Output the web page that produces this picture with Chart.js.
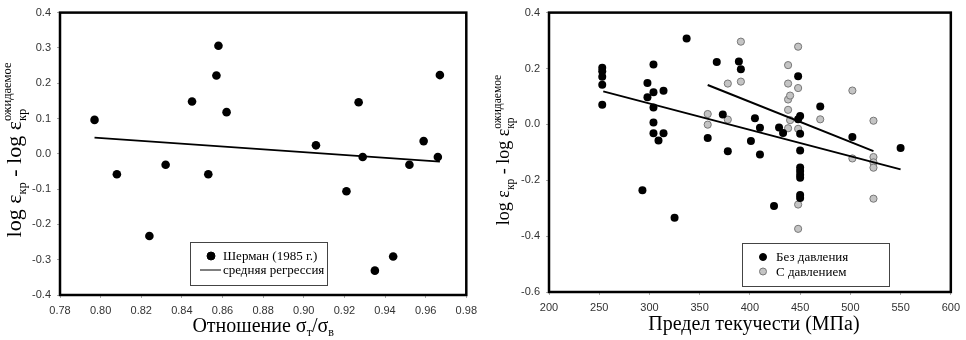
<!DOCTYPE html>
<html>
<head>
<meta charset="utf-8">
<script src="https://cdn.jsdelivr.net/npm/chart.js@4.4.0/dist/chart.umd.min.js"></script>
<style>
body { margin: 0; background: #fff; }
#wrap { position: relative; width: 966px; height: 340px; }
canvas { position: absolute; top: 0; }
#left { left: 0; }
#right { left: 483px; }
</style>
</head>
<body>
<div id="wrap">
  <canvas id="left" width="483" height="340"></canvas>
  <canvas id="right" width="483" height="340"></canvas>
</div>
<script>
// ---- left panel: Sherman (1985) ----
var shermanX = [0.797, 0.808, 0.824, 0.832, 0.845, 0.853, 0.857, 0.858, 0.862, 0.906,
                0.921, 0.927, 0.929, 0.935, 0.944, 0.952, 0.959, 0.966, 0.967];
var shermanY = [0.096, -0.058, -0.233, -0.031, 0.148, -0.058, 0.222, 0.306, 0.118, 0.024,
                -0.106, 0.146, -0.009, -0.331, -0.291, -0.031, 0.036, -0.009, 0.223];
var leftRegX = [0.797, 0.967];
var leftRegY = [0.046, -0.022];
var leftXTicks = [0.78, 0.80, 0.82, 0.84, 0.86, 0.88, 0.90, 0.92, 0.94, 0.96, 0.98];
var leftYTicks = [-0.4, -0.3, -0.2, -0.1, 0.0, 0.1, 0.2, 0.3, 0.4];

// ---- right panel: yield strength ----
var noPressX = [253, 253, 253, 253, 253, 293, 298, 298, 304, 304, 304, 304, 304, 309, 314, 314,
                325, 337, 358, 367, 373, 378, 389, 391, 401, 405, 410, 410, 424, 429, 433,
                448, 448, 450, 450, 450, 450, 450, 450, 450, 450, 450, 470, 502, 550];
var noPressY = [0.203, 0.19, 0.17, 0.142, 0.07, -0.236, 0.148, 0.097, 0.214, 0.115, 0.06, 0.007, -0.032, -0.058, 0.12, -0.032,
                -0.334, 0.307, -0.049, 0.223, 0.035, -0.096, 0.225, 0.197, -0.06, 0.022, -0.012, -0.108, -0.292, -0.011, -0.031,
                0.172, 0.018, 0.03, -0.034, -0.094, -0.154, -0.167, -0.18, -0.191, -0.253, -0.264, 0.064, -0.045, -0.085];
var pressX = [358, 358, 378, 378, 391, 391, 438, 438, 438, 438, 438, 440, 440,
              448, 448, 448, 448, 448, 470, 502, 502, 523, 523, 523, 523, 523];
var pressY = [0.037, -0.001, 0.146, 0.017, 0.296, 0.153, 0.212, 0.146, 0.089, 0.052, -0.014, 0.103, 0.015,
              0.278, 0.13, -0.016, -0.287, -0.374, 0.018, 0.121, -0.122, 0.013, -0.117, -0.136, -0.155, -0.266];
var noPressRegX = [254, 550];
var noPressRegY = [0.118, -0.161];
var pressRegX = [358, 523];
var pressRegY = [0.141, -0.096];
var rightXTicks = [200, 250, 300, 350, 400, 450, 500, 550, 600];
var rightYTicks = [-0.6, -0.4, -0.2, 0.0, 0.2, 0.4];

var SERIF = '"Liberation Serif", "Times New Roman", serif';
var SANS = '"Liberation Sans", Arial, sans-serif';

function pts(xs, ys) {
  return xs.map(function(x, i) { return {x: x, y: ys[i]}; });
}

// draws a run of text pieces (sub/superscripts), centred on the anchor
function drawRich(ctx, parts, x, y, angle) {
  ctx.save();
  ctx.translate(x, y);
  ctx.rotate(angle);
  var adv = 0, end = 0;
  parts.forEach(function(p) {
    ctx.font = p.s + 'px ' + SERIF;
    p.w = ctx.measureText(p.t).width;
    p.x = adv;
    end = Math.max(end, adv + p.w);
    if (!p.stack) adv += p.w;
  });
  var start = -Math.max(adv, end) / 2;
  ctx.fillStyle = '#000';
  ctx.textAlign = 'left';
  ctx.textBaseline = 'alphabetic';
  parts.forEach(function(p) {
    ctx.font = p.s + 'px ' + SERIF;
    ctx.fillText(p.t, start + p.x, p.dy || 0);
  });
  ctx.restore();
}

var decor = {
  id: 'decor',
  afterDraw: function(chart, args, o) {
    var ctx = chart.ctx, a = chart.chartArea;
    ctx.save();
    ctx.strokeStyle = '#000';
    ctx.lineWidth = 2.5;
    ctx.strokeRect(a.left, a.top, a.right - a.left, a.bottom - a.top);

    // legend box
    var L = o.legend;
    ctx.lineWidth = 1;
    ctx.strokeStyle = '#444';
    ctx.fillStyle = '#fff';
    ctx.fillRect(L.x, L.y, L.w, L.h);
    ctx.strokeRect(L.x + 0.5, L.y + 0.5, L.w, L.h);
    L.items.forEach(function(it, i) {
      var cy = L.y + L.first + i * L.step;
      if (it.kind === 'line') {
        ctx.strokeStyle = '#000';
        ctx.lineWidth = 1;
        ctx.beginPath();
        ctx.moveTo(L.mark - 11, cy);
        ctx.lineTo(L.mark + 10, cy);
        ctx.stroke();
      } else {
        ctx.beginPath();
        ctx.arc(L.mark, cy, it.r, 0, Math.PI * 2);
        ctx.fillStyle = it.fill;
        ctx.fill();
        ctx.strokeStyle = it.stroke;
        ctx.lineWidth = 1;
        ctx.stroke();
      }
      ctx.fillStyle = '#000';
      ctx.font = '13px ' + SERIF;
      ctx.textBaseline = 'middle';
      ctx.fillText(it.text, L.text, cy + 1);
    });
    ctx.restore();

    drawRich(ctx, o.xTitle, (a.left + a.right) / 2 + (o.xShift || 0), o.xBase, 0);
    drawRich(ctx, o.yTitle, o.yBase, o.yMid, -Math.PI / 2);
  }
};

function yTitle(big, small) {
  return [
    {t: 'log ', s: big},
    {t: 'ε', s: big},
    {t: 'кр', s: small, dy: small * 0.4},
    {t: ' - log ', s: big},
    {t: 'ε', s: big},
    {t: 'кр', s: small, dy: small * 0.4, stack: true},
    {t: 'ожидаемое', s: small, dy: -big * 0.45}
  ];
}

function axis(min, max, ticks, digits, size) {
  return {
    type: 'linear',
    min: min,
    max: max,
    afterBuildTicks: function(s) { s.ticks = ticks.map(function(v) { return {value: v}; }); },
    afterFit: function(s) { if (s.isHorizontal()) s.height = size; else s.width = size; },
    grid: { drawOnChartArea: false, drawTicks: true, tickLength: 3, color: '#aaa' },
    border: { display: false },
    ticks: {
      padding: 6,
      color: '#333',
      font: { family: SANS, size: 11 },
      callback: function(v) { return v.toFixed(digits); }
    }
  };
}

function makeChart(id, datasets, scales, pad, deco) {
  return new Chart(document.getElementById(id), {
    type: 'scatter',
    data: { datasets: datasets },
    options: {
      responsive: false,
      animation: false,
      events: [],
      layout: { padding: pad },
      scales: scales,
      plugins: { legend: { display: false }, tooltip: { enabled: false }, decor: deco }
    },
    plugins: [decor]
  });
}

makeChart('left', [
  { data: pts(leftRegX, leftRegY), showLine: true, borderColor: '#000', borderWidth: 1.8, pointRadius: 0 },
  { data: pts(shermanX, shermanY), pointRadius: 4.3, backgroundColor: '#000', borderColor: '#000', borderWidth: 0 }
], {
  x: axis(0.78, 0.98, leftXTicks, 2, 45),
  y: axis(-0.4, 0.4, leftYTicks, 1, 60)
}, { top: 10, right: 16, left: 0, bottom: 0 }, {
  legend: { x: 190, y: 242, w: 137, h: 43, mark: 211, text: 223, first: 14, step: 14,
    items: [
      { kind: 'dot', r: 4, fill: '#000', stroke: '#000', text: 'Шерман (1985 г.)' },
      { kind: 'line', text: 'средняя регрессия' }
    ] },
  xTitle: [
    {t: 'Отношение σ', s: 20},
    {t: 'т', s: 12, dy: 4},
    {t: '/σ', s: 20},
    {t: 'в', s: 12, dy: 4}
  ],
  xBase: 332,
  yTitle: yTitle(22, 12.5),
  yBase: 21,
  yMid: 150
});

makeChart('right', [
  { data: pts(noPressRegX, noPressRegY), showLine: true, borderColor: '#000', borderWidth: 2, pointRadius: 0 },
  { data: pts(pressRegX, pressRegY), showLine: true, borderColor: '#000', borderWidth: 2, pointRadius: 0 },
  { data: pts(noPressX, noPressY), pointRadius: 4, backgroundColor: '#000', borderColor: '#000', borderWidth: 0 },
  { data: pts(pressX, pressY), pointRadius: 3.6, backgroundColor: '#c4c4c4', borderColor: '#777', borderWidth: 1 }
], {
  x: axis(200, 600, rightXTicks, 0, 48),
  y: axis(-0.6, 0.4, rightYTicks, 1, 66)
}, { top: 9, right: 13, left: 0, bottom: 0 }, {
  legend: { x: 259, y: 243, w: 147, h: 43, mark: 280, text: 293, first: 14, step: 14.5,
    items: [
      { kind: 'dot', r: 3.5, fill: '#000', stroke: '#000', text: 'Без давления' },
      { kind: 'dot', r: 3.5, fill: '#c4c4c4', stroke: '#777', text: 'С давлением' }
    ] },
  xTitle: [
    {t: 'Предел текучести (МПа)', s: 20}
  ],
  xShift: 4,
  xBase: 330,
  yTitle: yTitle(18, 11.5),
  yBase: 26,
  yMid: 150
});
</script>
</body>
</html>
